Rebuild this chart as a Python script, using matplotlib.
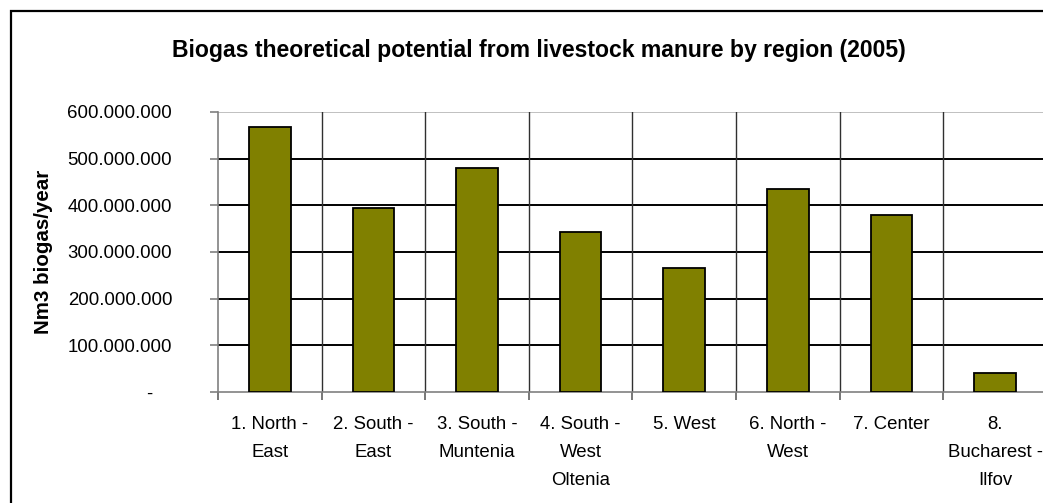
import numpy as np
import matplotlib
matplotlib.use("Agg")
import matplotlib.pyplot as plt
import matplotlib.transforms as mtransforms
from matplotlib.patches import Rectangle

plt.rcParams['font.family'] = ['Liberation Sans', 'DejaVu Sans']

regions = ["1. North -\nEast", "2. South -\nEast", "3. South -\nMuntenia",
           "4. South -\nWest\nOltenia", "5. West", "6. North -\nWest",
           "7. Center", "8.\nBucharest -\nIlfov"]
biogas = [567e6, 394e6, 481e6, 343e6, 266e6, 436e6, 380e6, 41e6]
yticks = [0, 100e6, 200e6, 300e6, 400e6, 500e6, 600e6]
ytick_labels = ["-", "100.000.000", "200.000.000", "300.000.000",
                "400.000.000", "500.000.000", "600.000.000"]

W, H = 1043, 503
fig = plt.figure(figsize=(W / 100, H / 100), dpi=100)

# outer chart frame (cut off at right/bottom like the original)
fig.patches.append(Rectangle((11 / W, -0.1), 1.2, 1 - 11 / H + 0.1,
                             transform=fig.transFigure, fill=False,
                             edgecolor="black", linewidth=1.6, clip_on=False))

left, right, top, bottom = 218, 218 + 8 * 103.6, 112, 392
ax = fig.add_axes([left / W, 1 - bottom / H, (right - left) / W, (bottom - top) / H])

x = np.arange(len(regions))
ax.bar(x, biogas, width=0.4, color="#808000", edgecolor="black", linewidth=1.3, zorder=3)

ax.set_xlim(-0.5, len(regions) - 0.5)
ax.set_ylim(0, 600e6)

# horizontal grid
for v in yticks[1:-1]:
    ax.axhline(v, color="black", linewidth=1.4, zorder=1)
ax.axhline(600e6, color="#c0c0c0", linewidth=1.4, zorder=1)
# vertical separators between categories
for b in np.arange(0.5, len(regions) - 0.5, 1):
    ax.axvline(b, color="#303030", linewidth=1.0, zorder=1)

for s in ["top", "right"]:
    ax.spines[s].set_visible(False)
for s in ["left", "bottom"]:
    ax.spines[s].set_color("#808080")
    ax.spines[s].set_linewidth(1.2)

ax.set_yticks(yticks)
ax.set_yticklabels(ytick_labels, fontsize=13.4)
ax.tick_params(axis="y", direction="out", length=6, color="#808080", width=1.2, pad=27)

ax.set_xticks(np.arange(-0.5, len(regions), 1))
ax.set_xticklabels([])
ax.tick_params(axis="x", which="major", direction="out", length=6, color="#606060", width=1.2)
ax.set_xticks(x, minor=True)
ax.set_xticklabels(regions, minor=True, fontsize=13.4, linespacing=1.82)
ax.tick_params(axis="x", which="minor", length=0, pad=17.5)

# shift the zero label "-" to the left like the accounting format
zero = ax.get_yticklabels()[0]
zero.set_transform(zero.get_transform() +
                   mtransforms.ScaledTranslation(-20 / 100, 0, fig.dpi_scale_trans))

ax.set_ylabel("Nm3 biogas/year", fontsize=14.8, fontweight="bold")
ax.yaxis.set_label_coords(-(218 - 53) / (right - left), 0.5)

fig.text(539 / W, 1 - 50 / H,
         "Biogas theoretical potential from livestock manure by region (2005)",
         ha="center", va="center", fontsize=16.6, fontweight="bold")

fig.savefig("out.png", dpi=100)
